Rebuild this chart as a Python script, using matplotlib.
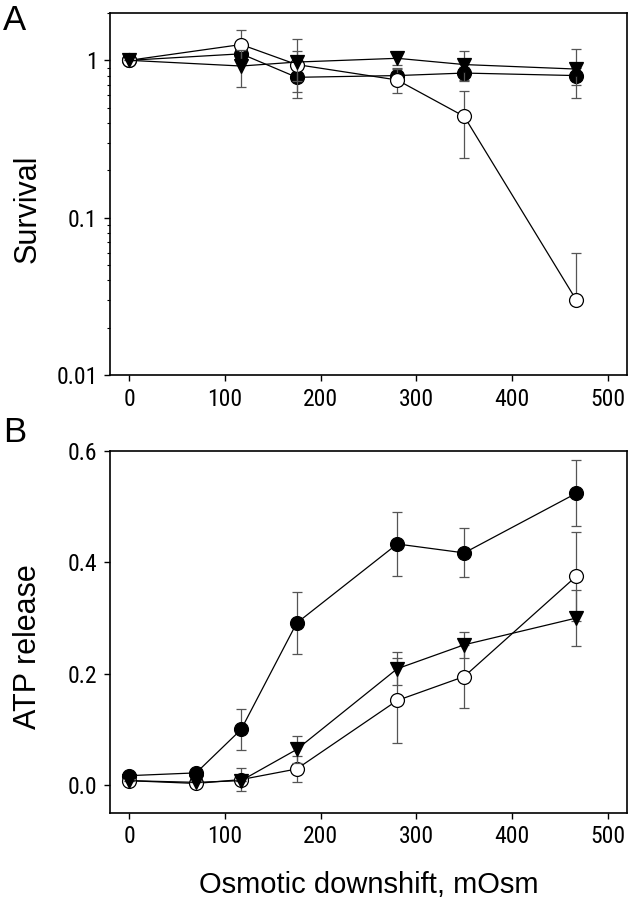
import numpy as np
import matplotlib
matplotlib.use("Agg")
from matplotlib import pyplot as plt
from matplotlib.ticker import FixedLocator, NullFormatter

plt.rcParams['font.family'] = ['Liberation Sans', 'DejaVu Sans']
TICK_FONT = ['Roboto Condensed', 'Liberation Sans']

# Panel A: survival
x_a = [0, 117, 175, 280, 350, 467]
surv_filled = [1.0, 1.10, 0.78, 0.80, 0.83, 0.80]
surv_filled_err = [0.0, 0.05, 0.15, 0.10, 0.08, 0.10]
surv_open = [1.0, 1.26, 0.94, 0.75, 0.44, 0.030]
surv_open_err = [0.0, 0.30, 0.20, 0.13, 0.20, 0.030]
surv_tri = [1.0, 0.92, 0.975, 1.03, 0.94, 0.88]
surv_tri_err = [0.0, 0.24, 0.40, 0.10, 0.20, 0.30]

# Panel B: ATP release
x_b = [0, 70, 117, 175, 280, 350, 467]
atp_filled = [0.017, 0.022, 0.100, 0.291, 0.433, 0.417, 0.524]
atp_filled_err = [0.0, 0.0, 0.037, 0.055, 0.058, 0.044, 0.059]
atp_open = [0.008, 0.003, 0.010, 0.029, 0.152, 0.195, 0.375]
atp_open_err = [0.0, 0.0, 0.020, 0.023, 0.076, 0.056, 0.080]
atp_tri = [0.008, 0.005, 0.008, 0.064, 0.209, 0.252, 0.300]
atp_tri_err = [0.0, 0.0, 0.0, 0.024, 0.030, 0.023, 0.050]

fig = plt.figure(figsize=(6.3, 9), dpi=100)
ax_a = fig.add_axes([0.1746, 0.5833, 0.8206, 0.4023])
ax_b = fig.add_axes([0.1746, 0.0967, 0.8206, 0.4022])

ebar = dict(ecolor='#555555', elinewidth=0.9, capsize=3.5, capthick=0.9, color='black',
            linewidth=0.9, markersize=10, markeredgewidth=0.9, markeredgecolor='black')


def draw(ax, x, y, err, marker, face, z, logscale=False):
    err = np.asarray(err, dtype=float)
    y = np.asarray(y, dtype=float)
    low = err.copy()
    if logscale:
        # a lower bar reaching zero or below is not drawn on a log axis
        low[y - err <= 0] = 0.0
    ax.errorbar(x, y, yerr=[low, err], fmt='-' + marker, markerfacecolor=face, zorder=z, **ebar)


draw(ax_a, x_a, surv_filled, surv_filled_err, 'o', 'black', 3, True)
draw(ax_a, x_a, surv_open, surv_open_err, 'o', 'white', 4, True)
draw(ax_a, x_a, surv_tri, surv_tri_err, 'v', 'black', 5, True)

draw(ax_b, x_b, atp_filled, atp_filled_err, 'o', 'black', 3)
draw(ax_b, x_b, atp_open, atp_open_err, 'o', 'white', 4)
draw(ax_b, x_b, atp_tri, atp_tri_err, 'v', 'black', 5)

ax_a.set_yscale('log')
ax_a.set_ylim(0.01, 2.0)
ax_a.set_yticks([0.01, 0.1, 1])
ax_a.set_yticklabels(['0.01', '0.1', '1'])
minors = [m * 10.0 ** e for e in (-2, -1, 0) for m in range(2, 10) if m * 10.0 ** e <= 2.0]
ax_a.yaxis.set_minor_locator(FixedLocator(minors))
ax_a.yaxis.set_minor_formatter(NullFormatter())
ax_a.set_ylabel('Survival', fontsize=22)
ax_a.yaxis.set_label_coords(-0.13, 0.46)

ax_b.set_ylim(-0.05, 0.6)
ax_b.set_yticks([0.0, 0.2, 0.4, 0.6])
ax_b.set_yticklabels(['0.0', '0.2', '0.4', '0.6'])
ax_b.set_ylabel('ATP release', fontsize=22)
ax_b.yaxis.set_label_coords(-0.13, 0.46)
ax_b.set_xlabel('Osmotic downshift, mOsm', fontsize=21, labelpad=16)

for ax in (ax_a, ax_b):
    ax.set_xlim(-20, 520)
    ax.set_xticks([0, 100, 200, 300, 400, 500])
    ax.tick_params(axis='both', which='major', direction='out', length=4, width=1,
                   labelsize=17, pad=5)
    ax.tick_params(axis='y', which='minor', direction='out', length=2.5, width=0.8)
    for lab in ax.get_xticklabels() + ax.get_yticklabels():
        lab.set_family(TICK_FONT)
    for s in ax.spines.values():
        s.set_linewidth(1.2)

fig.text(0.005, 0.995, 'A', fontsize=25, va='top', ha='left')
fig.text(0.005, 0.538, 'B', fontsize=25, va='top', ha='left')

fig.savefig('out.png', dpi=100)
